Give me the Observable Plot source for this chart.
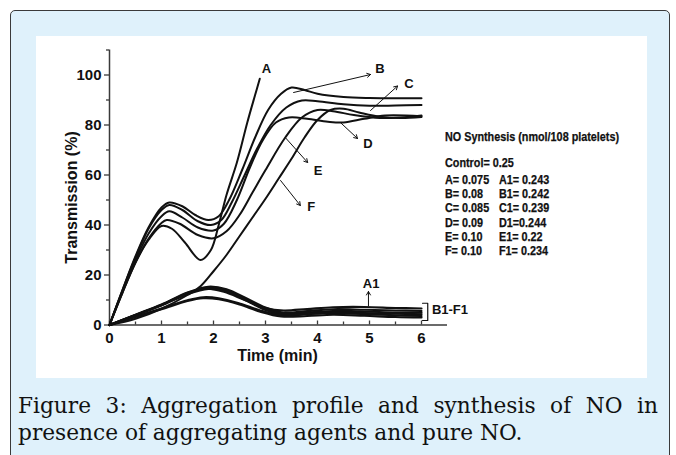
<!DOCTYPE html>
<html>
<head>
<meta charset="utf-8">
<script src="https://cdn.jsdelivr.net/npm/d3@7"></script>
<script src="https://cdn.jsdelivr.net/npm/@observablehq/plot@0.6"></script>
<style>
  html, body { margin: 0; padding: 0; background: #ffffff; width: 676px; height: 455px; overflow: hidden; }
  #frame { position: absolute; left: 10px; top: 10px; width: 660px; height: 470px; box-sizing: border-box;
           border: 1.5px solid #3a3a3a; border-radius: 5px; background: #dff1fb; }
  #panel { position: absolute; left: 36px; top: 36px; width: 611px; height: 342px; background: #ffffff; }
  #chart { position: absolute; left: 0; top: 0; }
  .leg { position: absolute; font-family: "Liberation Sans", Arial, sans-serif; font-weight: bold; font-size: 12px;
         color: #111; white-space: nowrap; transform: scaleX(0.9); transform-origin: 0 50%; line-height: 12px;
         -webkit-text-stroke: 0.25px #111; }
  #caption { position: absolute; left: 18px; top: 392px; width: 640px; font-family: "DejaVu Serif", serif;
             font-size: 21.7px; line-height: 27px; color: #111; text-align: justify; text-align-last: left; }
</style>
</head>
<body>
<div id="frame"></div>
<div id="panel"><div id="chart"></div></div>
<div id="legend"></div>
<div id="caption">Figure 3: Aggregation profile and synthesis of NO in presence of aggregating agents and pure NO.</div>
<script>
// ---- data: [time (min), transmission (%)] ----
const curveA = [[0,0],[0.25,13],[0.5,25],[0.75,34],[1.0,39.6],[1.2,38.5],[1.45,33],[1.75,26],[1.95,30],[2.1,40],[2.25,52],[2.45,65],[2.65,81],[2.8,92],[2.89,98.5]];
const curveB = [[0,0],[0.25,14],[0.5,27.5],[0.75,39],[1.0,47],[1.15,49],[1.4,47.5],[1.65,44],[1.9,42],[2.1,43.5],[2.3,50],[2.55,62],[2.8,75],[3.05,86],[3.3,92.5],[3.5,95],[3.75,94],[4.0,92.5],[4.5,91.2],[5.0,90.8],[6.0,90.7]];
const curveC = [[0,0],[0.25,14],[0.5,27],[0.75,38.5],[1.0,46],[1.15,48],[1.4,46],[1.7,41.5],[1.95,40],[2.15,42],[2.35,49],[2.6,60],[2.85,71],[3.1,80],[3.4,87],[3.7,89.8],[4.0,89.5],[4.5,88.3],[5.0,87.7],[5.5,87.8],[6.0,88]];
const curveD = [[0,0],[0.25,13.5],[0.5,26],[0.75,36.5],[1.0,43.5],[1.15,45.5],[1.4,43],[1.7,39],[2.0,37.8],[2.2,40.5],[2.45,50],[2.7,63],[2.95,74],[3.2,81],[3.45,83],[3.8,82.5],[4.2,81.3],[4.5,81],[4.9,82.5],[5.3,83.8],[6.0,83.5]];
const curveE = [[0,0],[0.25,13],[0.5,25],[0.75,34.5],[1.0,40.8],[1.1,42],[1.35,40.5],[1.7,36],[2.0,34.7],[2.25,37.5],[2.5,44],[2.75,53],[3.0,62],[3.38,75],[3.7,83],[4.0,86],[4.3,85.5],[4.7,84],[5.2,82.8],[5.6,83],[6.0,83.8]];
const curveF = [[0,0],[0.5,2.5],[1.0,6.5],[1.5,12],[1.75,15.5],[2.0,21.5],[2.25,28],[2.5,35.5],[2.75,43],[3.0,50.5],[3.25,58.5],[3.5,66.5],[3.75,75],[4.0,82],[4.25,86],[4.5,86.5],[4.8,85],[5.2,83.3],[5.6,82.8],[6.0,83.2]];
const curveA1 = [[0,0],[0.5,4],[1,8],[1.5,12.5],[1.85,14.5],[2.2,13.3],[2.6,10],[3.0,6.8],[3.35,5.8],[3.8,6.4],[4.3,7.1],[4.9,7.2],[5.5,6.8],[6,6.6]];
const curveB1 = [[0,0],[0.5,4.1],[1,8.2],[1.5,13],[1.9,15.3],[2.25,14.3],[2.65,10.5],[3.0,7],[3.35,5],[3.8,5.6],[4.3,6.3],[4.9,6.1],[5.5,5.8],[6,5.6]];
const curveC1 = [[0,0],[0.5,4],[1,8],[1.5,12.8],[1.9,15],[2.25,14],[2.65,10],[3.0,6.5],[3.35,4.6],[3.8,5],[4.3,5.6],[4.9,5.4],[5.5,5],[6,4.9]];
const curveD1 = [[0,0],[0.5,3.9],[1,7.8],[1.5,12.3],[1.9,14.4],[2.25,13.5],[2.65,9.6],[3.0,6],[3.35,4.2],[3.8,4.6],[4.3,5.1],[4.9,4.8],[5.5,4.5],[6,4.3]];
const curveE1 = [[0,0],[0.5,3.3],[1,6.6],[1.5,9.9],[1.8,11.1],[2.1,10.7],[2.5,8.6],[2.9,5.8],[3.3,3.9],[3.8,4.3],[4.3,4.8],[4.9,4.4],[5.5,3.9],[6,3.6]];
const curveF1 = [[0,0],[0.5,3.2],[1,6.3],[1.5,9.6],[1.8,10.7],[2.1,10.3],[2.5,8.2],[2.9,5.3],[3.3,3.4],[3.8,3.6],[4.3,4.1],[4.9,3.7],[5.5,3.2],[6,3.0]];

const xTicks = [0, 1, 2, 3, 4, 5, 6];
const xMinorTicks = [0.5, 1.5, 2.5, 3.5, 4.5, 5.5];
const yTicks = [0, 20, 40, 60, 80, 100];
const yMinorTicks = [10, 30, 50, 70, 90, 110];

// curve labels and their arrows (data units)
const curveLabels = [
  {text: "A", t: 3.02, v: 102.6},
  {text: "B", t: 5.2, v: 102.6},
  {text: "C", t: 5.76, v: 96.6},
  {text: "D", t: 4.97, v: 72.4},
  {text: "E", t: 4.01, v: 61.6},
  {text: "F", t: 3.88, v: 47.2},
  {text: "A1", t: 5.03, v: 16.6},
  {text: "B1-F1", t: 6.2, v: 6.2}
];
const labelArrows = [
  {t1: 3.54, v1: 93, t2: 5.02, v2: 100.2},
  {t1: 5.02, v1: 85.8, t2: 5.54, v2: 95.6},
  {t1: 4.44, v1: 81, t2: 4.77, v2: 74.6},
  {t1: 3.38, v1: 75, t2: 3.81, v2: 65},
  {t1: 3.29, v1: 57.8, t2: 3.67, v2: 47.8},
  {t1: 4.98, v1: 7.6, t2: 4.98, v2: 13.4}
];
const bracket = [[6.02, 1.8], [6.12, 1.8], [6.12, 8.7], [6.02, 8.7]];

const legendTitle = "NO Synthesis (nmol/108 platelets)";
const legendControl = "Control= 0.25";
const legendCol1 = ["A= 0.075", "B= 0.08", "C= 0.085", "D= 0.09", "E= 0.10", "F= 0.10"];
const legendCol2 = ["A1= 0.243", "B1= 0.242", "C1= 0.239", "D1=0.244", "E1= 0.22", "F1= 0.234"];

// ---- plot ----
const W = 611, H = 342, mL = 73, mR = 200, mT = 13.5, mB = 53.5;
const pxPerY = (H - mT - mB) / 110;
const ink = "#111";
const axisInk = "#3a3a3a";
const upper = [curveA, curveB, curveC, curveD, curveE, curveF];
const lower = [curveA1, curveB1, curveC1, curveD1, curveE1, curveF1];

const marks = [
  Plot.ruleY([0], {stroke: axisInk, strokeWidth: 1.5}),
  Plot.ruleX([0], {stroke: axisInk, strokeWidth: 1.5}),
  Plot.axisY({ticks: yTicks, tickSize: 5, tickPadding: 3, fontSize: 15, fontWeight: "bold", label: null, stroke: axisInk, fill: ink, strokeWidth: 1.3, tickFormat: d => String(d)}),
  Plot.axisY({ticks: yMinorTicks, tickSize: 3, fill: "none", label: null, stroke: axisInk, strokeWidth: 1.3}),
  Plot.axisX({ticks: xTicks, tickSize: 0, tickPadding: 7, fontSize: 15, fontWeight: "bold", label: null, fill: ink, tickFormat: d => String(d)}),
  Plot.ruleX(xTicks, {x: d => d, y1: 0, y2: 4 / pxPerY, stroke: axisInk, strokeWidth: 1.3}),
  Plot.ruleX(xMinorTicks, {x: d => d, y1: 0, y2: 3 / pxPerY, stroke: axisInk, strokeWidth: 1.3}),
  ...lower.map(c => Plot.line(c, {x: d => d[0], y: d => d[1], curve: "catmull-rom", stroke: ink, strokeWidth: 2.2})),
  ...upper.map(c => Plot.line(c, {x: d => d[0], y: d => d[1], curve: "catmull-rom", stroke: ink, strokeWidth: 2})),
  Plot.arrow(labelArrows, {x1: "t1", y1: "v1", x2: "t2", y2: "v2", stroke: ink, strokeWidth: 1, headLength: 6, bend: 0}),
  Plot.line(bracket, {x: d => d[0], y: d => d[1], stroke: ink, strokeWidth: 1.2}),
  Plot.text(curveLabels.filter(d => d.text !== "B1-F1"), {x: "t", y: "v", text: "text", fontSize: 13, fontWeight: "bold", fill: ink}),
  Plot.text(curveLabels.filter(d => d.text === "B1-F1"), {x: "t", y: "v", text: "text", fontSize: 13, fontWeight: "bold", fill: ink, textAnchor: "start"}),
  Plot.text(["Time (min)"], {x: 3.23, y: -12.2, text: d => d, fontSize: 16, fontWeight: "bold", fill: ink}),
  Plot.text(["Transmission (%)"], {x: -0.73, y: 51, text: d => d, fontSize: 16, fontWeight: "bold", fill: ink, rotate: -90})
];

const chart = Plot.plot({
  width: W, height: H, marginLeft: mL, marginRight: mR, marginTop: mT, marginBottom: mB,
  x: {domain: [0, 6.5]},
  y: {domain: [0, 110]},
  style: {background: "transparent", fontFamily: "'Liberation Sans', Arial, sans-serif", overflow: "visible"},
  marks
});
chart.style.overflow = "visible";
document.getElementById("chart").appendChild(chart);

// ---- legend ----
const legend = document.getElementById("legend");
function addLeg(text, x, yc) {
  const d = document.createElement("div");
  d.className = "leg";
  d.textContent = text;
  d.style.left = x + "px";
  d.style.top = (yc - 6) + "px";
  legend.appendChild(d);
}
addLeg(legendTitle, 445, 137);
addLeg(legendControl, 445, 163);
const rowY = [180, 194.2, 208.4, 222.6, 236.8, 251];
legendCol1.forEach((t, i) => addLeg(t, 445, rowY[i]));
legendCol2.forEach((t, i) => addLeg(t, 499, rowY[i]));
</script>
</body>
</html>
